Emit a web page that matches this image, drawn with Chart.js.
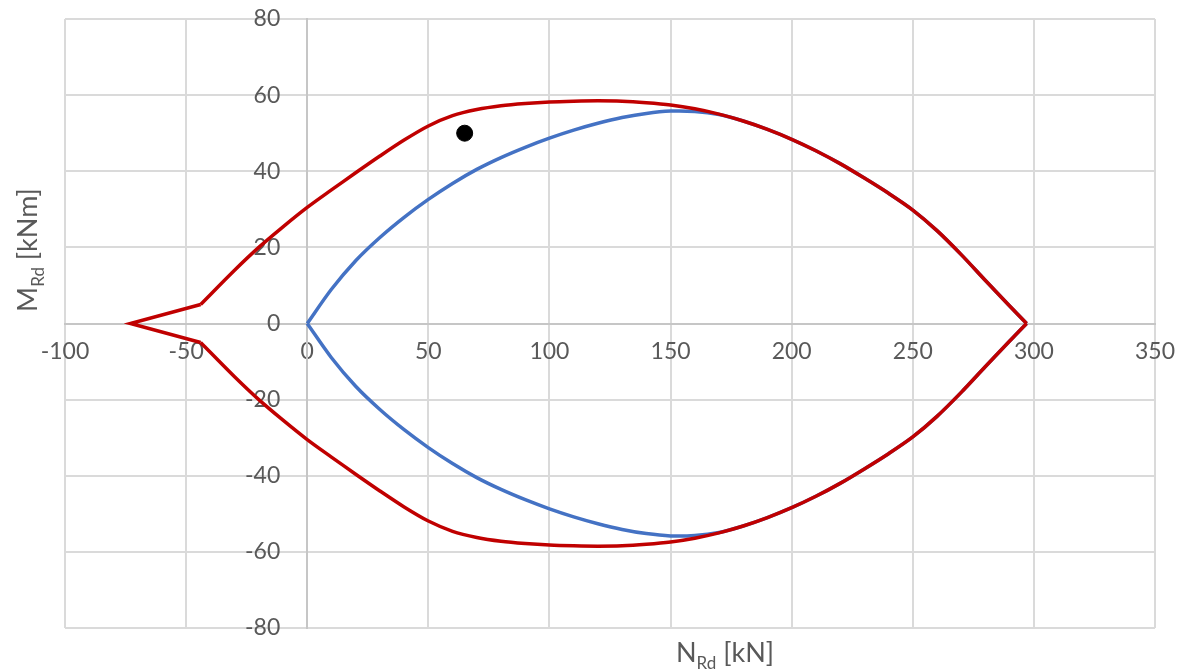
<!DOCTYPE html>
<html>
<head>
<meta charset="utf-8">
<script src="https://cdn.jsdelivr.net/npm/chart.js@4"></script>
<style>
  html, body { margin: 0; padding: 0; background: #fff; }
  #wrap { width: 1178px; height: 670px; position: relative; }
</style>
</head>
<body>
<div id="wrap"><canvas id="mnChart"></canvas></div>
<script>
// interaction diagram N-M

// outer (red) curve: sharp tip on the tension side
const redTipN = [-44, -73, -44];
const redTipM = [5, 0, -5];
// outer curve, upper branch
const redTopN = [-44, -30, -20, -10, 0, 10, 20, 30, 40, 50, 60, 70, 80, 90, 100, 110, 120, 130, 140, 150, 160, 170, 180, 190, 200, 210, 220, 230, 240, 250, 260, 270, 280, 290, 297];
const redTopM = [5, 14.0, 20.0, 25.4, 30.5, 35.1, 39.6, 44.0, 48.2, 51.9, 54.6, 56.2, 57.2, 57.8, 58.2, 58.4, 58.5, 58.4, 58.0, 57.4, 56.4, 55.0, 53.2, 51.0, 48.4, 45.4, 42.0, 38.2, 34.2, 29.8, 24.4, 18.1, 11.3, 4.6, 0];
// outer curve, lower branch
const redBotN = [297, 290, 280, 270, 260, 250, 240, 230, 220, 210, 200, 190, 180, 170, 160, 150, 140, 130, 120, 110, 100, 90, 80, 70, 60, 50, 40, 30, 20, 10, 0, -10, -20, -30, -44];
const redBotM = [0, -4.6, -11.3, -18.1, -24.4, -29.8, -34.2, -38.2, -42.0, -45.4, -48.4, -51.0, -53.2, -55.0, -56.4, -57.4, -58.0, -58.4, -58.5, -58.4, -58.2, -57.8, -57.2, -56.2, -54.6, -51.9, -48.2, -44.0, -39.6, -35.1, -30.5, -25.4, -20.0, -14.0, -5];

// inner (blue) curve
const blueTopN = [0, 10, 20, 30, 40, 50, 60, 70, 80, 90, 100, 110, 120, 130, 140, 150, 160, 170, 180, 190, 200, 210, 220, 230, 240, 250, 260, 270, 280, 290, 297];
const blueTopM = [0, 9.0, 16.5, 22.6, 27.9, 32.6, 36.8, 40.5, 43.6, 46.3, 48.7, 50.8, 52.6, 54.1, 55.2, 55.8, 55.7, 54.9, 53.2, 51.0, 48.4, 45.4, 42.0, 38.2, 34.2, 29.8, 24.4, 18.1, 11.3, 4.6, 0];
const blueBotN = [297, 290, 280, 270, 260, 250, 240, 230, 220, 210, 200, 190, 180, 170, 160, 150, 140, 130, 120, 110, 100, 90, 80, 70, 60, 50, 40, 30, 20, 10, 0];
const blueBotM = [0, -4.6, -11.3, -18.1, -24.4, -29.8, -34.2, -38.2, -42.0, -45.4, -48.4, -51.0, -53.2, -54.9, -55.7, -55.8, -55.2, -54.1, -52.6, -50.8, -48.7, -46.3, -43.6, -40.5, -36.8, -32.6, -27.9, -22.6, -16.5, -9.0, 0];

// design point
const pointN = [65];
const pointM = [50];

const xTicks = [-100, -50, 0, 50, 100, 150, 200, 250, 300, 350];
const yTicks = [-80, -60, -40, -20, 0, 20, 40, 60, 80];

function toXY(ns, ms) {
    return ns.map((n, i) => ({ x: n, y: ms[i] }));
}

const txtColor = '#595959';
const gridColor = '#dadada';
const redColor = '#c00000';
const blueColor = '#4472c4';
const tickFont = { family: 'Lato', size: 23 };

function curve(label, ns, ms, color, tension) {
    return {
        label: label,
        data: toXY(ns, ms),
        showLine: true,
        borderColor: color,
        borderWidth: 3.5,
        pointRadius: 0,
        tension: tension
    };
}

function noSpace(scale, dim) {
    scale[dim] = 0;
    scale.paddingLeft = 0;
    scale.paddingRight = 0;
    scale.paddingTop = 0;
    scale.paddingBottom = 0;
}

// y labels sit left of the x=0 axis with a gap (Chart.js ignores padding there)
const yLabelGap = {
    id: 'yLabelGap',
    beforeDraw(chart) {
        const items = chart.scales.y.getLabelItems();
        items.forEach(it => { it.options.translation[0] -= 27; });
    }
};

// axis titles with subscripts
const axisTitles = {
    id: 'axisTitles',
    afterDraw(chart) {
        const c = chart.ctx;
        c.save();
        c.fillStyle = txtColor;
        c.textBaseline = 'alphabetic';
        const big = '27px Lato';
        const small = '17px Lato';

        function drawSub(main, sub, rest) {
            c.font = big;
            const w1 = c.measureText(main).width;
            const w3 = c.measureText(rest).width;
            c.font = small;
            const w2 = c.measureText(sub).width;
            let x = -(w1 + w2 + w3) / 2;
            c.font = big;
            c.fillText(main, x, 0);
            x += w1;
            c.font = small;
            c.fillText(sub, x, 7);
            x += w2;
            c.font = big;
            c.fillText(rest, x, 0);
        }

        // x title
        c.save();
        c.translate(725, 662);
        drawSub('N', 'Rd', ' [kN]');
        c.restore();

        // y title
        c.save();
        c.translate(37, 250);
        c.rotate(-Math.PI / 2);
        drawSub('M', 'Rd', ' [kNm]');
        c.restore();

        c.restore();
    }
};

const ctx = document.getElementById('mnChart').getContext('2d');
const mnChart = new Chart(ctx, {
    type: 'scatter',
    data: {
        datasets: [
            {
                label: 'Design point',
                data: toXY(pointN, pointM),
                pointRadius: 8,
                pointBackgroundColor: '#000',
                pointBorderColor: '#000',
                showLine: false
            },
            curve('Outer tip', redTipN, redTipM, redColor, 0),
            curve('Outer top', redTopN, redTopM, redColor, 0.3),
            curve('Outer bottom', redBotN, redBotM, redColor, 0.3),
            curve('Inner top', blueTopN, blueTopM, blueColor, 0.3),
            curve('Inner bottom', blueBotN, blueBotM, blueColor, 0.3)
        ]
    },
    options: {
        responsive: true,
        maintainAspectRatio: false,
        animation: false,
        layout: {
            padding: { left: 65, right: 23, top: 19, bottom: 42 }
        },
        plugins: {
            legend: { display: false },
            tooltip: { enabled: false }
        },
        scales: {
            x: {
                type: 'linear',
                min: -100,
                max: 350,
                position: { y: 0 },
                afterBuildTicks(scale) {
                    scale.ticks = xTicks.map(v => ({ value: v }));
                },
                afterFit(scale) {
                    noSpace(scale, 'height');
                },
                ticks: {
                    color: txtColor,
                    font: tickFont,
                    padding: 14,
                    maxRotation: 0
                },
                grid: {
                    color: gridColor,
                    lineWidth: 2,
                    drawTicks: false
                },
                border: {
                    color: '#c6c6c6',
                    width: 2
                }
            },
            y: {
                type: 'linear',
                min: -80,
                max: 80,
                position: { x: 0 },
                afterBuildTicks(scale) {
                    scale.ticks = yTicks.map(v => ({ value: v }));
                },
                afterFit(scale) {
                    noSpace(scale, 'width');
                },
                ticks: {
                    color: txtColor,
                    font: tickFont
                },
                grid: {
                    color: gridColor,
                    lineWidth: 2,
                    drawTicks: false
                },
                border: {
                    color: '#c6c6c6',
                    width: 2
                }
            }
        }
    },
    plugins: [yLabelGap, axisTitles]
});
</script>
</body>
</html>
